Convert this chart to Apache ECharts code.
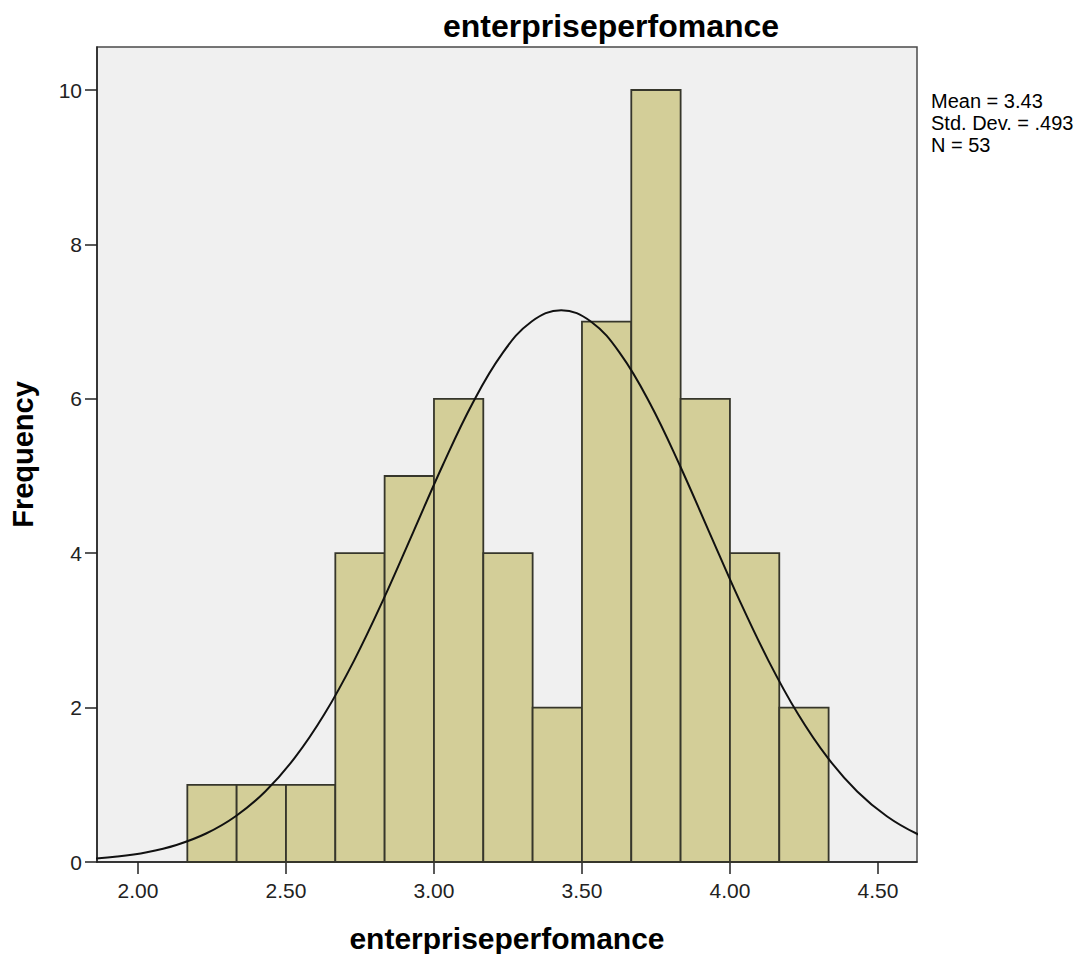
<!DOCTYPE html>
<html>
<head>
<meta charset="utf-8">
<script src="https://cdn.jsdelivr.net/npm/echarts@6/dist/echarts.min.js"></script>
<style>
html, body { margin: 0; padding: 0; background: #fff; }
#main { width: 1088px; height: 954px; }
</style>
</head>
<body>
<div id="main"></div>
<script>
// histogram bins (width 1/6) and counts
var binStarts = [2.1667, 2.3333, 2.5, 2.6667, 2.8333, 3.0, 3.1667, 3.3333, 3.5, 3.6667, 3.8333, 4.0, 4.1667];
var binWidth = 0.16667;
var counts = [1, 1, 1, 4, 5, 6, 4, 2, 7, 10, 6, 4, 2];

// normal curve
var curveX = [1.83, 1.93, 2.03, 2.13, 2.23, 2.33, 2.43, 2.53, 2.63, 2.73, 2.83, 2.93, 3.03, 3.13, 3.23, 3.33, 3.43,
	3.53, 3.63, 3.73, 3.83, 3.93, 4.03, 4.13, 4.23, 4.33, 4.43, 4.53, 4.63, 4.73];
var curveY = [0.037, 0.070, 0.127, 0.221, 0.369, 0.593, 0.914, 1.351, 1.916, 2.609, 3.408, 4.274, 5.143, 5.940, 6.583, 7.002, 7.148,
	7.002, 6.583, 5.940, 5.143, 4.274, 3.408, 2.609, 1.916, 1.351, 0.914, 0.593, 0.369, 0.221];

var xTicks = [2.0, 2.5, 3.0, 3.5, 4.0, 4.5];
var yTicks = [0, 2, 4, 6, 8, 10];
var statLines = ['Mean = 3.43', 'Std. Dev. = .493', 'N = 53'];
var varName = 'enterpriseperfomance';

var bars = binStarts.map(function (s, i) {
	return [s, s + binWidth, counts[i]];
});
var curve = curveX.map(function (x, i) {
	return [x, curveY[i]];
});

var chart = echarts.init(document.getElementById('main'), null, { renderer: 'svg' });

var font = 'Liberation Sans, Arial, sans-serif';

var statText = statLines.map(function (t, i) {
	return {
		type: 'text',
		left: 931,
		top: 91 + i * 22,
		style: {
			text: t,
			fill: '#000',
			fontFamily: font,
			fontSize: 20
		}
	};
});

var option = {
	backgroundColor: '#ffffff',
	animation: false,
	title: {
		text: varName,
		left: 606,
		top: 5,
		textAlign: 'center',
		textStyle: { fontFamily: font, fontSize: 32, fontWeight: 'bold', color: '#000' }
	},
	graphic: statText,
	grid: {
		left: 97,
		right: 171,
		top: 47,
		bottom: 92,
		outerBoundsMode: 'none',
		containLabel: false,
		show: true,
		backgroundColor: '#f0f0f0',
		borderColor: '#4a4a4a',
		borderWidth: 1.5
	},
	xAxis: {
		type: 'value',
		min: 1.8615,
		max: 4.632,
		name: varName,
		nameLocation: 'middle',
		nameGap: 61,
		nameTextStyle: { fontFamily: font, fontSize: 30, fontWeight: 'bold', color: '#000' },
		splitLine: { show: false },
		axisLine: { show: true, onZero: false, lineStyle: { color: '#222', width: 1.5 } },
		axisTick: { show: true, length: 12, customValues: xTicks, lineStyle: { color: '#222', width: 1.5 } },
		axisLabel: {
			customValues: xTicks,
			margin: 18,
			fontFamily: font,
			fontSize: 21,
			color: '#222',
			formatter: function (v) { return v.toFixed(2); }
		}
	},
	yAxis: {
		type: 'value',
		min: 0,
		max: 10.557,
		name: 'Frequency',
		nameLocation: 'middle',
		nameGap: 60,
		nameRotate: 90,
		nameTextStyle: { fontFamily: font, fontSize: 29, fontWeight: 'bold', color: '#000' },
		splitLine: { show: false },
		axisLine: { show: true, lineStyle: { color: '#222', width: 1.5 } },
		axisTick: { show: true, length: 12, customValues: yTicks, lineStyle: { color: '#222', width: 1.5 } },
		axisLabel: {
			customValues: yTicks,
			margin: 15,
			fontFamily: font,
			fontSize: 21,
			color: '#222'
		}
	},
	series: [{
		type: 'custom',
		name: 'bins',
		data: bars,
		encode: { x: [0, 1], y: 2 },
		renderItem: function (params, api) {
			var p0 = api.coord([api.value(0), 0]);
			var p1 = api.coord([api.value(1), api.value(2)]);
			return {
				type: 'rect',
				shape: { x: p0[0], y: p1[1], width: p1[0] - p0[0], height: p0[1] - p1[1] },
				style: { fill: '#d3ce98', stroke: '#36362b', lineWidth: 1.8 }
			};
		},
		z: 2
	}, {
		type: 'line',
		name: 'normal',
		data: curve,
		smooth: 0.4,
		showSymbol: false,
		clip: true,
		lineStyle: { color: '#111', width: 2 },
		z: 3
	}]
};

chart.setOption(option);
</script>
</body>
</html>
